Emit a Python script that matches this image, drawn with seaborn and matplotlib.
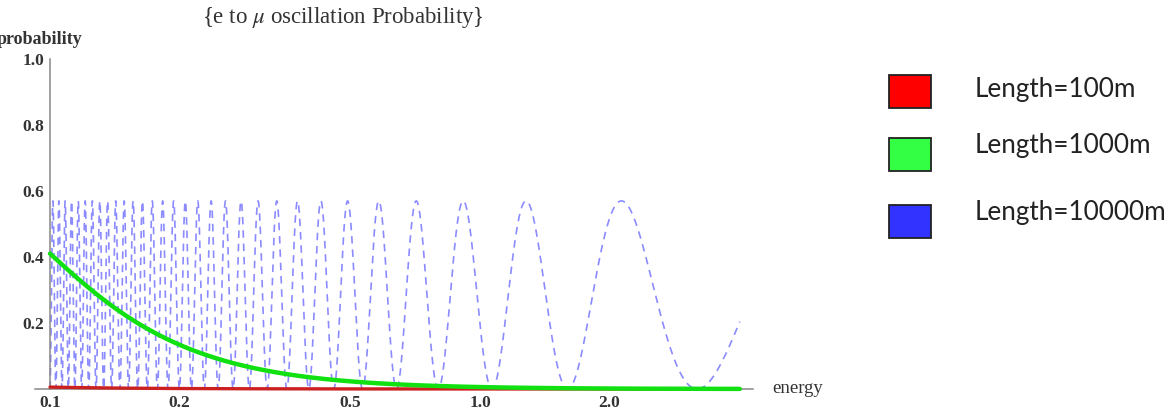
import numpy as np
import pandas as pd
import matplotlib
matplotlib.use("Agg")
import matplotlib.pyplot as plt
from matplotlib.patches import Rectangle
from matplotlib.ticker import FixedLocator, NullFormatter, MultipleLocator, LogLocator
import seaborn as sns

# Baselines and their oscillation parameters
baseline_labels = ["Length=100m", "Length=1000m", "Length=10000m"]
baseline_colors = ["#cc2020", "#11e011", "#5a5aff"]
legend_colors = ["#ff0000", "#33ff44", "#3333ff"]
phase_coeff = [0.0101, 0.1013, 10.05]   # oscillation phase at E = 1 (radians)
mixing_amplitude = 0.57                  # sin^2(2 theta)
energy_min, energy_max = 0.1, 4.02

x_ticks = [0.1, 0.2, 0.5, 1.0, 2.0]
x_tick_labels = ["0.1", "0.2", "0.5", "1.0", "2.0"]
y_ticks = [0.2, 0.4, 0.6, 0.8, 1.0]
y_tick_labels = ["0.2", "0.4", "0.6", "0.8", "1.0"]

sns.set_style("white")
plt.rcParams["font.family"] = ["Liberation Serif", "DejaVu Serif"]
plt.rcParams["mathtext.fontset"] = "stix"

energy = np.geomspace(energy_min, energy_max, 40000)
frames = []
for lab, k in zip(baseline_labels, phase_coeff):
    frames.append(pd.DataFrame({
        "energy": energy,
        "probability": mixing_amplitude * np.sin(k / energy) ** 2,
        "baseline": lab,
    }))
df = pd.concat(frames, ignore_index=True)

W, H = 1175, 411
fig = plt.figure(figsize=(W / 100, H / 100), dpi=100)
ax = fig.add_axes([35 / W, 1 - 389 / H, (753 - 35) / W, 330 / H])

# long baseline (dashed), then short, then medium on top
sub = df[df.baseline == baseline_labels[2]]
sns.lineplot(data=sub, x="energy", y="probability", ax=ax, color=baseline_colors[2],
             lw=1.2, alpha=0.7, estimator=None, sort=False)
ax.lines[-1].set_dashes((4.5, 3.5))
sub = df[df.baseline == baseline_labels[0]]
sns.lineplot(data=sub, x="energy", y="probability", ax=ax, color=baseline_colors[0],
             lw=2.4, estimator=None, sort=False)
ax.lines[-1].set_clip_on(False)
ax.lines[-1].set_zorder(3)
sub = df[df.baseline == baseline_labels[1]]
sns.lineplot(data=sub, x="energy", y="probability", ax=ax, color=baseline_colors[1],
             lw=3.2, estimator=None, sort=False)
ax.lines[-1].set_clip_on(False)
ax.lines[-1].set_zorder(4)

ax.set_xscale("log")
ax.set_xlim(10 ** (-1 - 15 / 430), 10 ** (-1 + 703 / 430))
ax.set_ylim(0, 1.0)
ax.set_xlabel("")
ax.set_ylabel("")

for s in ["top", "right"]:
    ax.spines[s].set_visible(False)
ax.spines["left"].set_position(("data", 0.1))
ax.spines["left"].set_bounds(0, 1.0)
for s in ["left", "bottom"]:
    ax.spines[s].set_color("#888888")
    ax.spines[s].set_linewidth(1.1)
    ax.spines[s].set_zorder(2)

ax.xaxis.set_major_locator(FixedLocator(x_ticks))
ax.set_xticklabels(x_tick_labels)
ax.xaxis.set_minor_locator(LogLocator(base=10, subs=np.arange(2, 10)))
ax.xaxis.set_minor_formatter(NullFormatter())
ax.yaxis.set_major_locator(FixedLocator(y_ticks))
ax.set_yticklabels(y_tick_labels)
ax.yaxis.set_minor_locator(MultipleLocator(0.05))
ax.tick_params(axis="both", which="major", direction="in", length=4.5, width=0.9,
               color="#555555", labelsize=12.5, labelcolor="#333333", pad=4)
ax.tick_params(axis="both", which="minor", direction="in", length=2.5, width=0.8,
               color="#555555")
for t in ax.get_xticklabels() + ax.get_yticklabels():
    t.set_fontweight("bold")

fig.text(343 / W, 1 - 18 / H, r"{e to $\mu$ oscillation Probability}", ha="center",
         va="center", fontsize=16.5, color="#333333")
fig.text(83 / W, 1 - 40 / H, "probability", ha="right", va="center", fontsize=13,
         color="#333333", fontweight="bold")
fig.text(772 / W, 1 - 388 / H, "energy", ha="left", va="center", fontsize=13.5,
         color="#333333")

# legend swatches
box_tops = [75, 138, 205]
text_centers = [90, 145, 212]
for top, tc, col, lab in zip(box_tops, text_centers, legend_colors, baseline_labels):
    fig.add_artist(Rectangle((889 / W, 1 - (top + 33) / H), 42 / W, 33 / H,
                             transform=fig.transFigure, facecolor=col,
                             edgecolor="#222222", linewidth=1.3))
    fig.text(975 / W, 1 - tc / H, lab, ha="left", va="center", fontsize=18.8,
             family=["Lato", "DejaVu Sans"], color="#222222")

fig.savefig("out.png", dpi=100)
